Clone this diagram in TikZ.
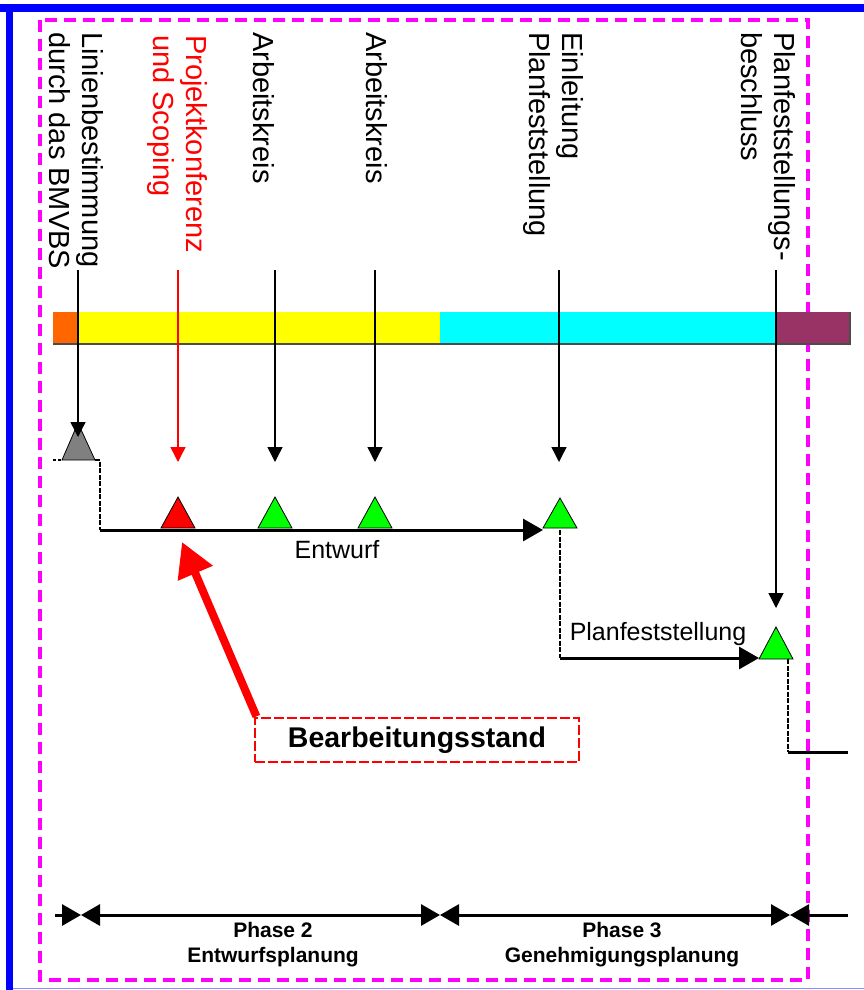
\documentclass[tikz,border=0pt]{standalone}
\usepackage{fontspec}
\setmainfont{Liberation Sans}
\usetikzlibrary{arrows.meta,calc}
\definecolor{mag}{RGB}{255,0,255}
\definecolor{orng}{RGB}{255,102,0}
\definecolor{purp}{RGB}{153,51,102}
\definecolor{lgreen}{RGB}{0,255,0}
\definecolor{lblue}{RGB}{140,140,255}
\definecolor{frameblue}{RGB}{0,0,255}
\definecolor{barcyan}{RGB}{0,255,255}
\definecolor{baryellow}{RGB}{255,255,0}
\begin{document}
\begin{tikzpicture}[x=1pt,y=-1pt,
  lbl/.style={rotate=-90, anchor=west, align=left, inner sep=0pt, font=\fontsize{29}{33}\selectfont},
  vline/.style={line width=1.4pt, -{Triangle[length=15pt,width=15pt]}},
  tri/.style={draw=black, line width=0.8pt, line join=miter},
  mainline/.style={line width=3pt},
  bighead/.style={-{Triangle[length=20pt,width=22pt]}},
  dashv/.style={line width=2.8pt, dash pattern=on 5pt off 1.5pt},
  tl/.style={line width=3pt},
  midlbl/.style={inner sep=0pt, font=\fontsize{25}{30}\selectfont},
  phaselbl/.style={inner sep=0pt, align=center, font=\bfseries\fontsize{21}{25}\selectfont},
  magframe/.style={draw=mag, line width=3.5pt, dash pattern=on 12pt off 7pt}
]
\useasboundingbox (0,0) rectangle (864,990);
% window frame
\fill[frameblue] (0,4) rectangle (864,12);
\fill[frameblue] (6,4) rectangle (13,990);
\draw[lblue, line width=1.5pt] (13,988.5) -- (864,988.5);
% magenta dashed frame
\draw[magframe] (40,20) rectangle (808,980);
% colour bar
\fill[orng] (53,312) rectangle (77,344);
\fill[baryellow] (77,312) rectangle (440,344);
\fill[barcyan] (440,312) rectangle (776,344);
\fill[purp] (776,312) rectangle (850,344);
\draw[black!70, line width=1.2pt] (53,344) -- (850,344) -- (850,312);
% top labels
\node[lbl] (L1) at (76,32) {Linienbestimmung\\durch das BMVBS};
\node[lbl, text=red] (L2) at (177,35) {Projektkonferenz\\und Scoping};
\node[lbl] (L3) at (263.5,32) {Arbeitskreis};
\node[lbl] (L4) at (376.5,32) {Arbeitskreis};
\node[lbl] (L5) at (553.5,32) {Einleitung\\Planfeststellung};
\node[lbl] (L6) at (768.5,32) {Planfeststellungs-\\beschluss};
% start and end points of the milestone arrows
\coordinate (s1) at (78,270);  \coordinate (e1) at (78,437);
\coordinate (s2) at (178,270); \coordinate (e2) at (178,462);
\coordinate (s3) at (275,270); \coordinate (e3) at (275,462);
\coordinate (s4) at (375,270); \coordinate (e4) at (375,462);
\coordinate (s5) at (559,270); \coordinate (e5) at (559,462);
\coordinate (s6) at (776,270); \coordinate (e6) at (776,608);
% milestone triangles
\filldraw[tri, fill=gray] (62,460) -- (78,423) -- (95,460) -- cycle;
\filldraw[tri, fill=red] (161,528) -- (178,497) -- (195,528) -- cycle;
\filldraw[tri, fill=lgreen] (258,528) -- (275,497) -- (292,528) -- cycle;
\filldraw[tri, fill=lgreen] (358,528) -- (375,497) -- (392,528) -- cycle;
\filldraw[tri, fill=lgreen] (543,528) -- (560,498) -- (577,528) -- cycle;
\filldraw[tri, fill=lgreen] (759,659) -- (776,627) -- (793,659) -- cycle;
% milestone arrows
\draw[vline] (s1) -- (e1);
\draw[vline, red] (s2) -- (e2);
\draw[vline] (s3) -- (e3);
\draw[vline] (s4) -- (e4);
\draw[vline] (s5) -- (e5);
\draw[vline] (s6) -- (e6);
% process path
\coordinate (p0) at (53,460);
\coordinate (p1) at (62,460);
\coordinate (p2) at (95,460);
\coordinate (p3) at (100,460);
\coordinate (p4) at (100,530);
\coordinate (p5) at (543,530);
\coordinate (p6) at (560,530);
\coordinate (p7) at (560,658);
\coordinate (p8) at (759,658);
\coordinate (p9) at (788,659);
\coordinate (p10) at (788,752);
\coordinate (p11) at (848,752);
\draw[line width=1.5pt, dash pattern=on 3pt off 2pt] (p0) -- (p1);
\draw[dashv] (p2) -- (p3) -- (p4);
\draw[mainline, bighead] (p4) -- (p5);
\draw[dashv] (p6) -- (p7);
\draw[mainline, bighead] (p7) -- (p8);
\draw[dashv] (p9) -- (p10);
\draw[mainline] (p10) -- (p11);
\node[midlbl] (ent) at (337,550) {Entwurf};
\node[midlbl] (pf) at (658,634.5) {Planfeststellung};
% Bearbeitungsstand
\node[draw=red, line width=1.2pt, dash pattern=on 10pt off 3pt, minimum width=324pt, minimum height=44pt,
      font=\bfseries\fontsize{28.5}{34}\selectfont] (bs) at (417,740) {Bearbeitungsstand};
\coordinate (bt) at (182,542);
\draw[red, line width=8pt, -{Triangle[length=34pt,width=36pt]}] ($(bs.north west)+(2,-1)$) -- (bt);
% phase timeline
\coordinate (b0) at (55,915);
\coordinate (b1) at (81,915);
\coordinate (b2) at (440,915);
\coordinate (b3) at (790,915);
\coordinate (b4) at (848,915);
\tikzset{>={Triangle[length=19pt,width=21pt]}}
\draw[tl, ->] (b0) -- (b1);
\draw[tl, <->] (b1) -- (b2);
\draw[tl, <->] (b2) -- (b3);
\draw[tl, <-] (b3) -- (b4);
\node[phaselbl] (ph2) at (273,945) {Phase 2\\Entwurfsplanung};
\node[phaselbl] (ph3) at (622,945) {Phase 3\\Genehmigungsplanung};
\end{tikzpicture}
\end{document}
